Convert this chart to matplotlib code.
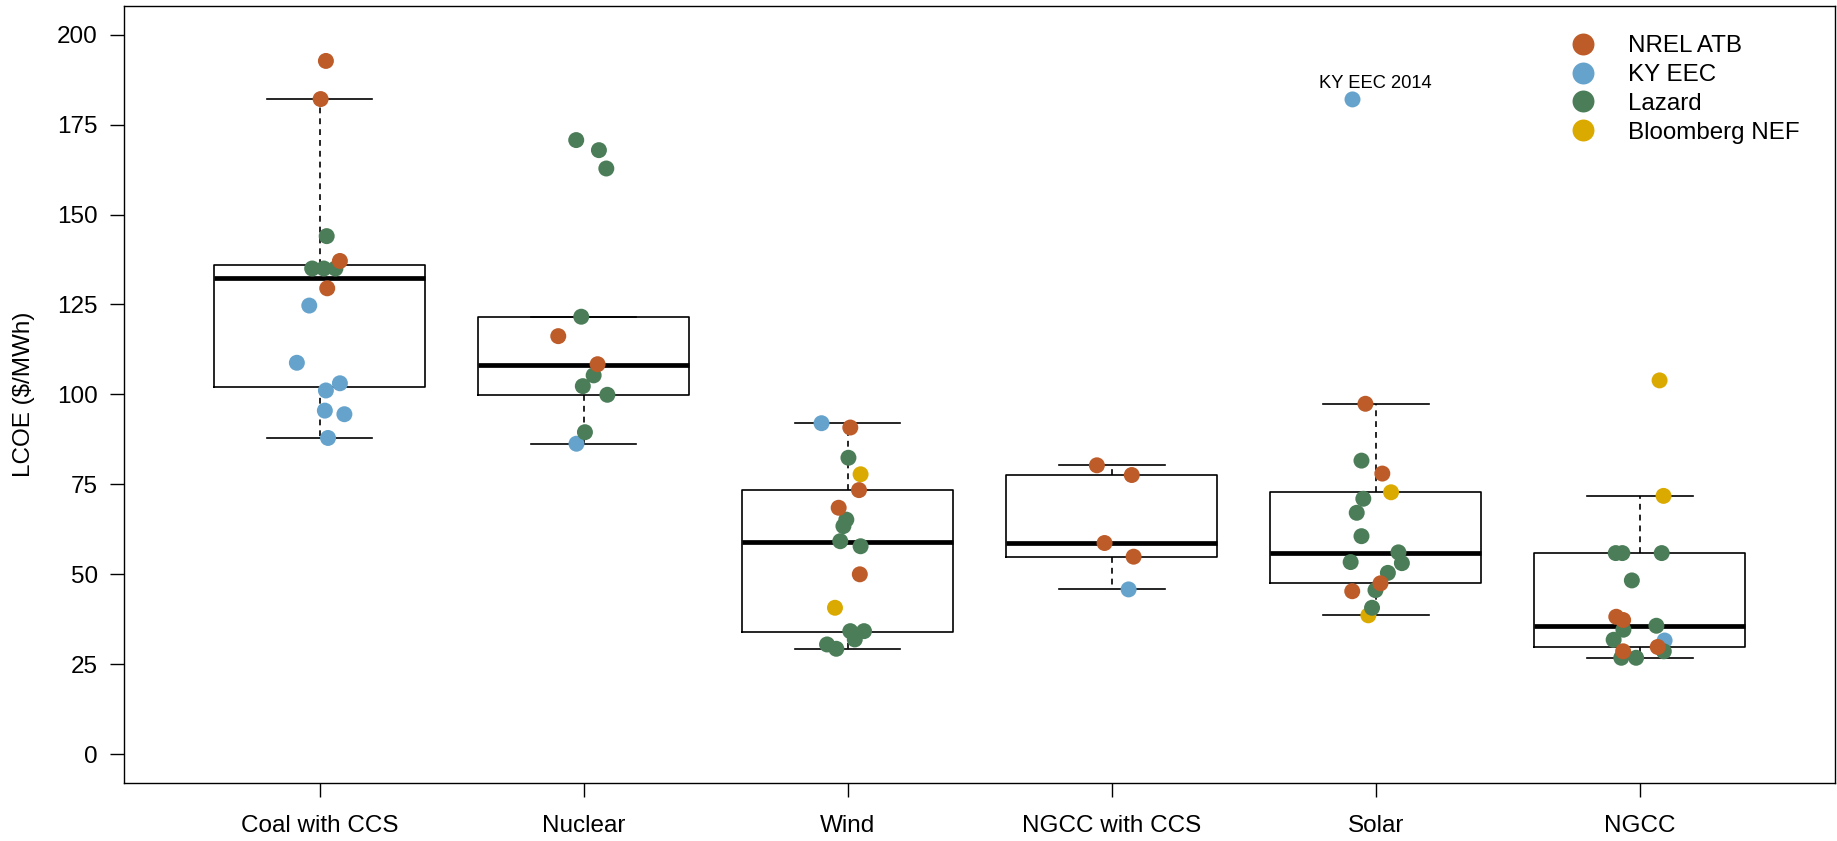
import matplotlib
matplotlib.use("Agg")
import matplotlib.pyplot as plt
from matplotlib.lines import Line2D

plt.rcParams['font.family'] = ['Liberation Sans', 'DejaVu Sans']

# --- categories and box statistics ---
categories = ['Coal with CCS', 'Nuclear', 'Wind', 'NGCC with CCS', 'Solar', 'NGCC']
box_lo = [87.9, 86.3, 29.3, 45.8, 38.6, 26.8]
box_q1 = [102.0, 99.9, 34.0, 54.9, 47.5, 29.7]
box_med = [132.3, 108.3, 59.1, 58.7, 56.0, 35.6]
box_q3 = [136.1, 121.6, 73.4, 77.6, 72.8, 55.9]
box_hi = [182.1, 121.6, 92.0, 80.3, 97.4, 71.8]

# --- individual estimates: value, source, horizontal jitter ---
N, K, L, B = 'NREL ATB', 'KY EEC', 'Lazard', 'Bloomberg NEF'

coal_lcoe = [192.7, 182.1, 144.0, 135.0, 135.0, 135.0, 137.1, 129.5, 124.7, 108.8, 103.1, 101.1, 95.5, 94.5, 87.9]
coal_src = [N, N, L, L, L, L, N, N, K, K, K, K, K, K, K]
coal_dx = [0.024, 0.004, 0.027, -0.028, 0.016, 0.060, 0.077, 0.029, -0.039, -0.086, 0.077, 0.024, 0.020, 0.094, 0.032]

nuclear_lcoe = [170.7, 167.9, 162.8, 121.6, 116.2, 108.4, 105.3, 102.3, 99.9, 89.5, 86.3]
nuclear_src = [L, L, L, L, N, N, L, L, L, L, K]
nuclear_dx = [-0.028, 0.058, 0.086, -0.009, -0.096, 0.053, 0.038, -0.003, 0.090, 0.005, -0.027]

wind_lcoe = [92.0, 90.8, 82.4, 77.8, 73.4, 68.5, 65.2, 63.4, 59.2, 57.8, 50.0, 40.7, 34.2, 34.2, 31.9, 30.5, 29.3]
wind_src = [K, N, L, B, N, N, L, L, L, L, N, B, L, L, L, L, L]
wind_dx = [-0.099, 0.010, 0.003, 0.049, 0.043, -0.034, -0.005, -0.016, -0.028, 0.049, 0.046, -0.048, 0.010, 0.062, 0.027, -0.078, -0.043]

ngccs_lcoe = [80.3, 77.6, 58.7, 54.9, 45.8]
ngccs_src = [N, N, N, N, K]
ngccs_dx = [-0.056, 0.076, -0.027, 0.083, 0.064]

solar_lcoe = [182.0, 97.4, 81.6, 78.0, 72.8, 71.0, 67.1, 60.6, 56.1, 53.1, 53.4, 50.4, 47.5, 45.6, 45.3, 40.7, 38.6]
solar_src = [K, N, L, N, B, L, L, L, L, L, L, L, N, L, N, L, B]
solar_dx = [-0.088, -0.039, -0.054, 0.025, 0.058, -0.047, -0.072, -0.054, 0.086, 0.099, -0.095, 0.046, 0.018, -0.001, -0.089, -0.014, -0.028]

ngcc_lcoe = [103.9, 71.8, 55.9, 55.9, 55.9, 48.3, 38.2, 37.3, 34.6, 35.7, 31.8, 31.6, 29.8, 28.6, 28.6, 26.8, 26.8]
ngcc_src = [B, B, L, L, L, L, N, N, L, L, L, K, N, L, N, L, L]
ngcc_dx = [0.075, 0.090, -0.091, -0.066, 0.083, -0.030, -0.089, -0.063, -0.062, 0.063, -0.099, 0.094, 0.068, 0.091, -0.063, -0.070, -0.014]

sources = [N, K, L, B]
colors = {N: '#BD5B29', K: '#65A3CD', L: '#4B7D58', B: '#DBAA00'}
layer = {K: 3.0, B: 3.1, L: 3.2, N: 3.3}

points = [
    (coal_lcoe, coal_src, coal_dx),
    (nuclear_lcoe, nuclear_src, nuclear_dx),
    (wind_lcoe, wind_src, wind_dx),
    (ngccs_lcoe, ngccs_src, ngccs_dx),
    (solar_lcoe, solar_src, solar_dx),
    (ngcc_lcoe, ngcc_src, ngcc_dx),
]

fig = plt.figure(figsize=(18.37, 8.41), dpi=100)
ax = fig.add_axes([0.0676, 0.069, 0.9314, 0.924])

stats = []
for i, name in enumerate(categories):
    stats.append(dict(label=name, whislo=box_lo[i], q1=box_q1[i], med=box_med[i],
                      q3=box_q3[i], whishi=box_hi[i], fliers=[]))

pos = list(range(1, len(categories) + 1))
ax.bxp(stats, positions=pos, widths=0.8, capwidths=0.4, showfliers=False,
       boxprops=dict(color='black', linewidth=1.2),
       whiskerprops=dict(color='black', linewidth=1.2, linestyle=(0, (3.5, 3))),
       capprops=dict(color='black', linewidth=1.2),
       medianprops=dict(color='black', linewidth=3.4, solid_capstyle='butt'))

for i, (vals, srcs, dxs) in enumerate(points):
    for v, s, d in zip(vals, srcs, dxs):
        ax.scatter(pos[i] + d, v, s=11.5 ** 2, color=colors[s], edgecolors='none', zorder=layer[s])

# label for the outlying KY EEC solar estimate
ax.text(5, 185.1, 'KY EEC 2014', ha='center', va='baseline', fontsize=13.2)

ax.set_xlim(0.26, 6.74)
ax.set_ylim(-8, 208)
ax.set_yticks([0, 25, 50, 75, 100, 125, 150, 175, 200])
ax.set_xticks(pos)
ax.set_xticklabels(categories)
ax.tick_params(axis='both', labelsize=17.5, length=10, width=1.0, direction='out')
ax.tick_params(axis='x', pad=13)
ax.tick_params(axis='y', pad=9)
for sp in ax.spines.values():
    sp.set_linewidth(1.0)

ax.set_ylabel('LCOE ($/MWh)', fontsize=17.5)
ax.yaxis.set_label_coords(-0.052, 0.5)

handles = [Line2D([], [], marker='o', linestyle='none', markersize=15.8,
                  markerfacecolor=colors[s], markeredgecolor='none') for s in sources]
ax.legend(handles, sources, loc='upper left', bbox_to_anchor=(0.8457, 0.962),
          frameon=False, fontsize=17.4, handlelength=1.0, handletextpad=1.36,
          labelspacing=0.28, borderpad=0, borderaxespad=0)

fig.savefig('out.png', dpi=100)
